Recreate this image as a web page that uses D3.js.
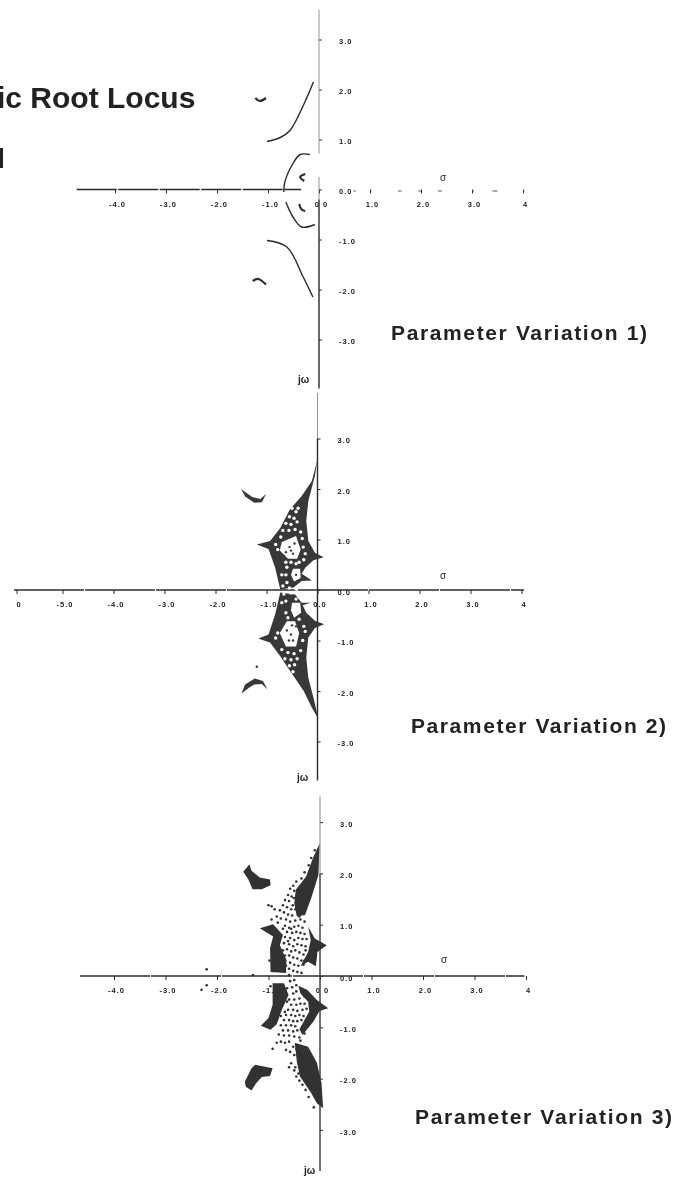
<!DOCTYPE html>
<html>
<head>
<meta charset="utf-8">
<script src="https://cdn.jsdelivr.net/npm/d3@7"></script>
<style>
  html, body { margin: 0; background: #fff; overflow: hidden; }
  text { font-family: "Liberation Sans", Arial, sans-serif; fill: #222; }
  .tick-label { font-size: 7.5px; font-weight: bold; letter-spacing: 1px; }
  .heading { font-weight: bold; }
</style>
</head>
<body>
<svg id="chart" width="676" height="1178"></svg>
<script>
// tick labels
const xTicks1 = [-4, -3, -2, -1, 0, 1, 2, 3, 4];
const xLabels1 = ["-4.0", "-3.0", "-2.0", "-1.0", "0 0", "1.0", "2.0", "3.0", "4"];
const xTicks2 = [-5.9, -5, -4, -3, -2, -1, 0, 1, 2, 3, 4];
const xLabels2 = ["0", "-5.0", "-4.0", "-3.0", "-2.0", "-1.0", "0.0", "1.0", "2.0", "3.0", "4"];
const yTicks = [3, 2, 1, 0, -1, -2, -3];
const yLabels = ["3.0", "2.0", "1.0", "0.0", "-1.0", "-2.0", "-3.0"];

// variation 1: thin root locus branches [sigma, omega]
const locus1 = [
  [[-0.11, 2.15], [-0.29, 1.72], [-0.57, 1.18], [-0.76, 1.04], [-1.02, 0.96]],
  [[-1.02, -1.02], [-0.63, -1.15], [-0.31, -1.75], [-0.12, -2.15]],
  [[-0.18, 0.70], [-0.37, 0.70], [-0.51, 0.52], [-0.67, 0.15], [-0.69, -0.05]],
  [[-0.65, -0.25], [-0.51, -0.55], [-0.34, -0.75], [-0.08, -0.70]],
  [[-0.27, 0.31], [-0.37, 0.25], [-0.29, 0.17]],
  [[-0.39, -0.29], [-0.34, -0.40], [-0.27, -0.43]],
  [[-1.25, 1.83], [-1.16, 1.77], [-1.04, 1.83]],
  [[-1.30, -1.83], [-1.19, -1.79], [-1.04, -1.90]]
];
const rightDashes1 = [[0.68, 0.72], [1.0, 1.03], [1.55, 1.62], [1.95, 2.0], [2.33, 2.41], [3.0, 3.04], [3.4, 3.5], [4.0, 4.03]];

// variation 2: filled regions
const regions2 = [
  [[0, 2.59], [-0.11, 2.16], [-0.31, 1.86], [-0.54, 1.60], [-0.73, 1.23], [-0.93, 0.97], [-1.19, 0.90], [-0.96, 0.81], [-0.83, 0.44], [-0.73, 0.01], [-0.47, 0.05], [-0.31, 0.18], [-0.11, 0.19], [-0.31, 0.32], [-0.24, 0.44], [-0.08, 0.59], [0.12, 0.65], [-0.05, 0.74], [-0.18, 0.97], [-0.22, 1.37], [-0.18, 1.76], [-0.05, 2.26]],
  [[-0.73, -0.05], [-0.83, -0.48], [-0.96, -0.88], [-1.16, -0.96], [-0.93, -1.04], [-0.73, -1.31], [-0.54, -1.60], [-0.27, -2.00], [-0.11, -2.33], [0.02, -2.56], [-0.08, -2.13], [-0.18, -1.74], [-0.22, -1.34], [-0.18, -0.94], [-0.05, -0.75], [0.13, -0.68], [-0.05, -0.61], [-0.22, -0.45], [-0.29, -0.30], [-0.13, -0.25], [-0.31, -0.25], [-0.44, -0.09]],
  [[-1.50, 2.00], [-1.42, 1.85], [-1.24, 1.73], [-1.09, 1.74], [-1.01, 1.90], [-1.12, 1.80], [-1.28, 1.84]],
  [[-1.49, -2.05], [-1.42, -1.87], [-1.23, -1.75], [-1.07, -1.80], [-0.98, -1.97], [-1.09, -1.86], [-1.24, -1.87], [-1.35, -1.94]]
];
const holes2 = [
  [[-0.70, 0.95], [-0.42, 1.07], [-0.33, 0.80], [-0.40, 0.62], [-0.58, 0.62], [-0.74, 0.78]],
  [[-0.48, 0.42], [-0.34, 0.42], [-0.33, 0.24], [-0.46, 0.17], [-0.52, 0.30]],
  [[-0.74, -0.85], [-0.60, -0.62], [-0.44, -0.62], [-0.36, -0.85], [-0.42, -1.12], [-0.62, -1.12]],
  [[-0.50, -0.25], [-0.34, -0.25], [-0.32, -0.45], [-0.46, -0.55], [-0.52, -0.40]]
];
const lightDots2 = [
  [-0.50, 1.62], [-0.42, 1.55], [-0.38, 1.62], [-0.55, 1.45], [-0.46, 1.42], [-0.62, 1.32], [-0.52, 1.30], [-0.40, 1.35],
  [-0.68, 1.18], [-0.56, 1.18], [-0.44, 1.20], [-0.33, 1.15], [-0.72, 1.05], [-0.30, 1.02], [-0.82, 0.90], [-0.78, 0.80],
  [-0.28, 0.85], [-0.24, 0.72], [-0.27, 0.60], [-0.62, 0.30], [-0.60, 0.15], [-0.68, 0.08], [-0.55, 0.04], [-0.42, 0.02],
  [-0.62, 0.55], [-0.52, 0.55], [-0.42, 0.52], [-0.60, 0.45], [-0.70, 0.30], [-0.36, 0.55], [-0.70, -0.25],
  [-0.62, -0.45], [-0.58, -0.55], [-0.36, -0.58], [-0.66, -0.08], [-0.52, -0.06], [-0.42, -0.18], [-0.62, -0.22],
  [-0.78, -0.85], [-0.82, -0.95], [-0.27, -0.72], [-0.24, -0.82], [-0.29, -1.00], [-0.33, -1.20], [-0.70, -1.18],
  [-0.58, -1.24], [-0.46, -1.26], [-0.64, -1.36], [-0.52, -1.38], [-0.40, -1.36], [-0.55, -1.50], [-0.45, -1.48], [-0.48, -1.62]
];
const darkDots2 = [
  [-0.55, 0.85], [-0.62, 0.75], [-0.48, 0.72], [-0.45, 0.92], [-0.66, 0.68], [-0.52, 0.78], [-0.42, 0.30],
  [-0.50, -0.70], [-0.42, -0.72], [-0.52, -0.88], [-0.60, -0.80], [-0.48, -1.00], [-0.56, -1.00], [-1.19, -1.52]
];

// variation 3: filled regions and loose scatter
const regions3 = [
  [[-0.01, 2.58], [-0.14, 2.29], [-0.27, 1.94], [-0.47, 1.68], [-0.50, 1.42], [-0.45, 1.16], [-0.29, 1.19], [-0.16, 1.55], [-0.03, 1.97]],
  [[-0.23, 0.96], [-0.10, 0.73], [0.13, 0.60], [-0.05, 0.47], [-0.08, 0.19], [-0.23, 0.28], [-0.38, 0.19], [-0.23, 0.47], [-0.18, 0.70]],
  [[-1.17, 0.93], [-0.91, 1.01], [-0.72, 0.80], [-0.78, 0.60], [-0.65, 0.31], [-0.66, 0.06], [-0.96, 0.08], [-0.97, 0.54], [-0.91, 0.77]],
  [[-1.49, 2.03], [-1.37, 2.18], [-1.33, 2.05], [-1.17, 1.92], [-0.97, 1.88], [-0.96, 1.77], [-1.13, 1.69], [-1.31, 1.69], [-1.39, 1.88]],
  [[-1.46, -2.06], [-1.33, -1.80], [-1.26, -1.73], [-0.92, -1.80], [-0.97, -1.95], [-1.13, -1.97], [-1.24, -2.09], [-1.33, -2.23], [-1.44, -2.16]],
  [[-0.92, -0.14], [-0.70, -0.14], [-0.61, -0.37], [-0.74, -0.66], [-0.84, -0.94], [-0.96, -1.05], [-1.15, -0.97], [-1.00, -0.82], [-0.92, -0.56]],
  [[-0.42, -0.19], [-0.25, -0.27], [-0.06, -0.47], [0.16, -0.63], [-0.01, -0.68], [-0.13, -0.89], [-0.34, -1.15], [-0.40, -1.04], [-0.21, -0.69], [-0.23, -0.50], [-0.38, -0.34]],
  [[-0.49, -1.30], [-0.23, -1.38], [-0.06, -1.69], [0.03, -2.09], [0.06, -2.58], [-0.06, -2.48], [-0.19, -2.25], [-0.39, -1.96], [-0.45, -1.67]]
];
const scatter3 = [
  [-0.46, 1.84], [-0.52, 1.76], [-0.58, 1.70], [-0.50, 1.66], [-0.62, 1.58], [-0.55, 1.55], [-0.68, 1.48], [-0.60, 1.46], [-0.53, 1.38],
  [-0.72, 1.38], [-0.64, 1.34], [-0.56, 1.30], [-0.78, 1.28], [-0.70, 1.24], [-0.62, 1.20], [-0.54, 1.18], [-0.84, 1.16], [-0.76, 1.12],
  [-0.66, 1.10], [-0.58, 1.06], [-0.48, 1.08], [-0.38, 1.10], [-0.30, 1.06], [-0.68, 0.98], [-0.60, 0.94], [-0.50, 0.96], [-0.42, 0.98],
  [-0.34, 0.94], [-0.64, 0.86], [-0.54, 0.84], [-0.46, 0.86], [-0.38, 0.84], [-0.30, 0.82], [-0.68, 0.76], [-0.58, 0.74], [-0.50, 0.70],
  [-0.42, 0.74], [-0.34, 0.72], [-0.26, 0.72], [-0.70, 0.64], [-0.60, 0.62], [-0.52, 0.58], [-0.44, 0.62], [-0.36, 0.60], [-0.28, 0.58],
  [-0.64, 0.52], [-0.56, 0.48], [-0.48, 0.50], [-0.40, 0.46], [-0.32, 0.42], [-0.60, 0.40], [-0.52, 0.36], [-0.44, 0.34], [-0.36, 0.30],
  [-0.58, 0.26], [-0.50, 0.22], [-0.42, 0.20], [-0.60, 0.14], [-0.52, 0.10], [-0.44, 0.08], [-0.36, 0.06], [-1.00, 1.38], [-0.94, 1.36],
  [-0.88, 1.30], [-0.58, -0.10], [-0.50, -0.08], [-0.46, -0.18], [-0.54, -0.22], [-0.60, -0.46], [-0.52, -0.34], [-0.46, -0.30], [-0.40, -0.44],
  [-0.50, -0.46], [-0.56, -0.56], [-0.46, -0.56], [-0.38, -0.54], [-0.30, -0.54], [-0.62, -0.66], [-0.52, -0.66], [-0.44, -0.68], [-0.34, -0.66],
  [-0.26, -0.64], [-0.66, -0.76], [-0.56, -0.76], [-0.48, -0.78], [-0.40, -0.76], [-0.32, -0.78], [-0.70, -0.86], [-0.60, -0.86], [-0.52, -0.88],
  [-0.44, -0.88], [-0.36, -0.86], [-0.76, -0.96], [-0.66, -0.96], [-0.56, -0.96], [-0.48, -0.98], [-0.72, -1.06], [-0.62, -1.06], [-0.52, -1.08],
  [-0.44, -1.06], [-0.80, -1.14], [-0.70, -1.16], [-0.60, -1.16], [-0.50, -1.18], [-0.40, -1.20], [-0.92, -1.42], [-0.84, -1.30], [-0.76, -1.28],
  [-0.68, -1.30], [-0.60, -1.28], [-0.52, -1.38], [-0.66, -1.44], [-0.58, -1.48], [-0.60, -1.78], [-0.56, -1.70], [-0.50, -1.84], [-0.46, -1.96],
  [-0.40, -2.04], [-0.34, -2.12], [-0.22, -2.36], [-0.28, -2.22], [-2.20, 0.13], [-2.20, -0.18], [-2.30, -0.27], [-1.30, 0.02], [-0.60, 0.02],
  [-0.44, 1.60], [-0.36, 1.90], [-0.30, 2.02], [-0.22, 2.16], [-0.17, 2.30], [-0.10, 2.45], [-0.51, 1.52], [-0.48, 1.30], [-0.40, 1.16],
  [-0.56, 0.92], [-0.62, 0.68], [-0.72, 0.50], [-0.68, 0.40], [-0.66, 0.20], [-0.94, 1.10], [-0.82, 1.04], [-0.72, 0.92], [-0.30, 0.30],
  [-0.28, 0.50], [-0.32, 0.22], [-0.98, 0.30], [-0.96, -0.20], [-0.64, -0.24], [-0.64, -0.50], [-0.68, -0.70], [-0.76, -0.78], [-0.30, -0.40],
  [-0.16, -0.78], [-0.22, -0.94], [-0.30, -1.12], [-0.38, -1.26], [-0.46, -1.42], [-0.50, -1.54], [-0.48, -1.78], [-0.42, -1.90], [-0.12, -2.56]
];

const svg = d3.select("#chart");
const defs = svg.append("defs");
defs.append("filter").attr("id", "scan").append("feGaussianBlur").attr("stdDeviation", 0.5);
const page = svg.append("g").attr("filter", "url(#scan)");
const ink = "#2b2b2b";

function makeScales(p) {
  return {
    x: d3.scaleLinear().domain([0, 1]).range([p.x0, p.x0 + p.xUnit]),
    y: d3.scaleLinear().domain([0, 1]).range([p.y0, p.y0 - p.yUnit])
  };
}

// both axes through d3.axis, labels pushed away from the tick like the plot does
function drawAxes(p, s) {
  const xAxis = d3.axisBottom(s.x)
    .tickValues(p.xTicks)
    .tickSize(4)
    .tickPadding(8)
    .tickFormat((d, i) => p.xLabels[i]);
  const xg = page.append("g").attr("transform", `translate(0,${p.y0})`).call(xAxis);
  xg.select(".domain").remove();
  xg.selectAll("line").attr("stroke", ink);
  xg.selectAll("text").attr("class", "tick-label").attr("dx", 2).attr("fill", ink);

  const yAxis = d3.axisRight(s.y)
    .tickValues(yTicks)
    .tickSize(3)
    .tickPadding(17)
    .tickFormat((d, i) => yLabels[i]);
  const yg = page.append("g").attr("transform", `translate(${p.x0},0)`).call(yAxis);
  yg.select(".domain").remove();
  yg.selectAll("line").attr("stroke", ink);
  yg.selectAll("text").attr("class", "tick-label").attr("dy", "0.55em").attr("fill", ink);

  // axis lines
  p.hLines.forEach(([a, b, w, dash]) => {
    page.append("line")
      .attr("x1", s.x(a)).attr("x2", s.x(b))
      .attr("y1", p.y0).attr("y2", p.y0)
      .attr("stroke", ink).attr("stroke-width", w)
      .attr("stroke-dasharray", dash);
  });
  p.vLines.forEach(([a, b, w, color]) => {
    page.append("line")
      .attr("x1", p.x0).attr("x2", p.x0)
      .attr("y1", s.y(a)).attr("y2", s.y(b))
      .attr("stroke", color).attr("stroke-width", w);
  });

  page.append("text").attr("x", p.sigma[0]).attr("y", p.sigma[1])
    .attr("font-size", 10).text("σ");
  page.append("text").attr("x", p.jw[0]).attr("y", p.jw[1])
    .attr("font-size", 10).attr("font-weight", "bold").text("jω");
}

function drawRegions(s, regions, fill) {
  const line = d3.line().x(d => s.x(d[0])).y(d => s.y(d[1])).curve(d3.curveLinearClosed);
  page.selectAll(null).data(regions).enter().append("path")
    .attr("d", line).attr("fill", fill);
}

function drawDots(s, dots, r, fill) {
  page.selectAll(null).data(dots).enter().append("circle")
    .attr("cx", d => s.x(d[0])).attr("cy", d => s.y(d[1]))
    .attr("r", r).attr("fill", fill);
}

const panel1 = {
  x0: 319, xUnit: 51, y0: 189.5, yUnit: 50, xTicks: xTicks1, xLabels: xLabels1,
  hLines: [[-4.75, -0.35, 1.5, "40 1.5"]],
  vLines: [[3.6, 0.72, 0.8, "#777"], [0.25, -0.2, 0.8, "#777"], [-0.2, -3.98, 1.4, ink]],
  sigma: [440, 181], jw: [298, 383]
};
const panel2 = {
  x0: 317.5, xUnit: 51, y0: 590, yUnit: 50.5, xTicks: xTicks2, xLabels: xLabels2,
  hLines: [[-5.95, 4.05, 1.5, "70 1"]],
  vLines: [[3.9, 3.0, 0.8, "#777"], [3.0, -3.77, 1.4, ink]],
  sigma: [440, 579], jw: [297, 781]
};
const panel3 = {
  x0: 320, xUnit: 51.5, y0: 976, yUnit: 51.3, xTicks: xTicks1, xLabels: xLabels1,
  hLines: [[-4.66, 3.97, 1.5, "70 1"]],
  vLines: [[3.5, 2.0, 0.9, "#777"], [2.0, -3.8, 1.5, "#444"]],
  sigma: [441, 963], jw: [304, 1174]
};

// panel 1
const s1 = makeScales(panel1);
drawAxes(panel1, s1);
const branch = d3.line().x(d => s1.x(d[0])).y(d => s1.y(d[1])).curve(d3.curveCatmullRom.alpha(0.5));
page.selectAll(null).data(locus1).enter().append("path")
  .attr("d", branch).attr("fill", "none").attr("stroke", ink)
  .attr("stroke-width", (d, i) => i > 3 ? 2.2 : 1.4);
rightDashes1.forEach(([a, b]) => {
  page.append("line").attr("x1", s1.x(a)).attr("x2", s1.x(b))
    .attr("y1", 191).attr("y2", 191).attr("stroke", "#555").attr("stroke-width", 1);
});

// panel 2
const s2 = makeScales(panel2);
drawAxes(panel2, s2);
drawRegions(s2, regions2, "#383838");
drawRegions(s2, holes2, "#fff");
drawDots(s2, lightDots2, 1.7, "#fff");
drawDots(s2, darkDots2, 1.2, "#383838");

// panel 3
const s3 = makeScales(panel3);
drawAxes(panel3, s3);
drawRegions(s3, regions3, "#333");
drawDots(s3, scatter3, 1.3, "#333");

// headings
const heading = (txt, x, y, size, len) => {
  const t = page.append("text").attr("class", "heading")
    .attr("x", x).attr("y", y).attr("font-size", size).text(txt);
  if (len) t.attr("textLength", len).attr("lengthAdjust", "spacing");
};
heading("ic Root Locus", -3, 108, 30);
heading("H", -16, 168, 29);
heading("Parameter Variation 1)", 391, 340, 21, 256);
heading("Parameter Variation 2)", 411, 733, 21, 255);
heading("Parameter Variation 3)", 415, 1124, 21, 257);
</script>
</body>
</html>
